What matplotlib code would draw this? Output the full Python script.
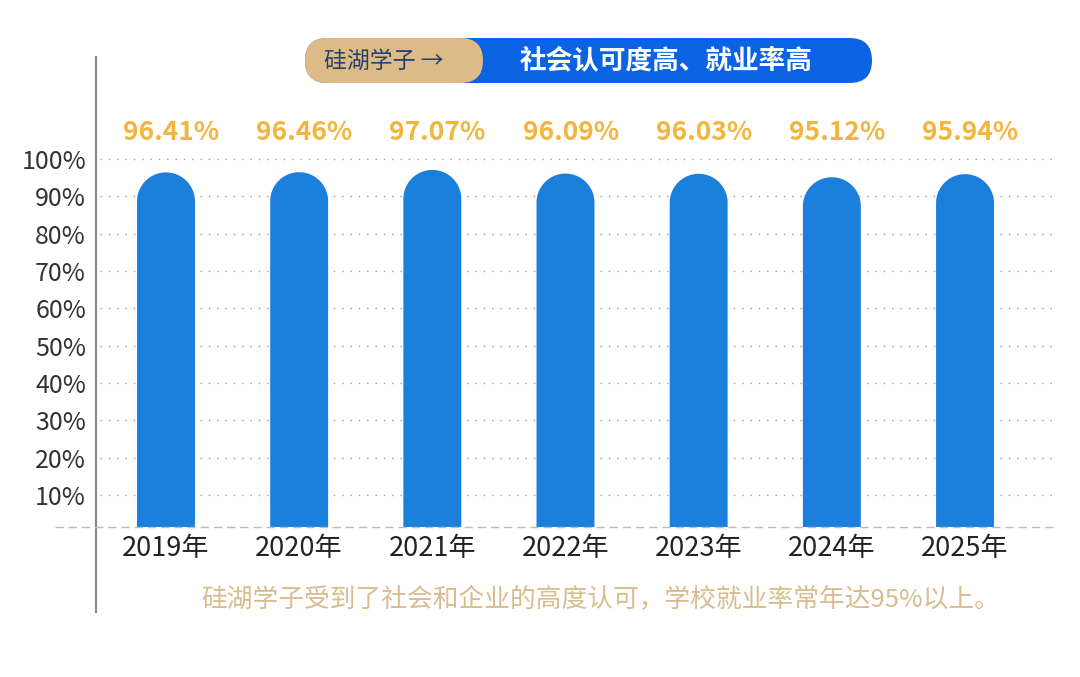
import numpy as np
import matplotlib
matplotlib.use('Agg')
import matplotlib.pyplot as plt
from matplotlib.patches import Polygon, FancyBboxPatch
from matplotlib.lines import Line2D

plt.rcParams['font.family'] = ['Noto Sans CJK SC', 'DejaVu Sans']

years = ['2019年', '2020年', '2021年', '2022年', '2023年', '2024年', '2025年']
rates = [96.41, 96.46, 97.07, 96.09, 96.03, 95.12, 95.94]
rate_labels = ['96.41%', '96.46%', '97.07%', '96.09%', '96.03%', '95.12%', '95.94%']
yticks = [10, 20, 30, 40, 50, 60, 70, 80, 90, 100]
ytick_labels = [f'{t}%' for t in yticks]
badge_left = '硅湖学子 →'
badge_right = '社会认可度高、就业率高'
caption = '硅湖学子受到了社会和企业的高度认可，学校就业率常年达95%以上。'

W, H = 1080, 677
fig = plt.figure(figsize=(W / 100, H / 100), dpi=100)
fig.patch.set_facecolor('white')

# main axes, placed in pixel terms
ax_l, ax_r, ax_t, ax_b = 100, 1055, 150, 527
ax = fig.add_axes([ax_l / W, (H - ax_b) / H, (ax_r - ax_l) / W, (ax_b - ax_t) / H])
ppy = 3.733  # px per percent
ybot = (532.3 - ax_b) / ppy
ytop = 100 + (159 - ax_t) / ppy
xstep = 133.2
xl = -(166 - ax_l) / xstep
xr = 6 + (ax_r - 965) / xstep
ax.set_xlim(xl, xr)
ax.set_ylim(ybot, ytop)

bar_color = '#1B7FDC'
x = np.arange(len(years))
w = 0.435
ppx = (ax_r - ax_l) / (xr - xl)
r_y = (w * ppx / 2) / ppy  # cap radius in y units, so the top is a true half circle

theta = np.linspace(np.pi, 0, 60)
for xi, v in zip(x, rates):
    cy = v - r_y
    arc_x = xi + w / 2 * np.cos(theta)
    arc_y = cy + r_y * np.sin(theta)
    xs = np.concatenate([[xi - w / 2], arc_x, [xi + w / 2]])
    ys = np.concatenate([[0], arc_y, [0]])
    ax.add_patch(Polygon(np.column_stack([xs, ys]), closed=True,
                         facecolor=bar_color, edgecolor='none', zorder=3))

for xi, lab in zip(x, rate_labels):
    ax.text(xi + 0.04, 107.2, lab, ha='center', va='center', fontsize=19,
            fontweight='bold', color='#F2B53E', clip_on=False)

ax.set_yticks(yticks)
ax.set_yticklabels(ytick_labels, fontsize=18, color='#333333')
ax.set_xticks(x)
ax.set_xticklabels(years, fontsize=19.5, color='#222222')
ax.tick_params(axis='both', length=0)
ax.tick_params(axis='y', pad=10)
ax.tick_params(axis='x', pad=6)
for s in ax.spines.values():
    s.set_visible(False)
ax.yaxis.grid(True, color='#9A9A9A', linestyle=(0, (1, 5)), linewidth=1.0)
ax.set_axisbelow(True)

# overlay in pixel coords for decorations
ov = fig.add_axes([0, 0, 1, 1], zorder=5)
ov.set_xlim(0, W)
ov.set_ylim(H, 0)
ov.axis('off')
ov.patch.set_alpha(0)

ov.add_line(Line2D([96, 96], [57, 612], color='#8A8A8A', linewidth=1.6))
ov.add_line(Line2D([55, 1057], [527, 527], color='#BBBBBB', linewidth=1.0,
                   linestyle=(0, (6, 3.5))))

ov.add_patch(FancyBboxPatch((305, 38), 567, 45,
                            boxstyle='round,pad=0,rounding_size=22.5',
                            facecolor='#0B63E4', edgecolor='none'))
ov.add_patch(FancyBboxPatch((305, 38), 178, 45,
                            boxstyle='round,pad=0,rounding_size=22.5',
                            facecolor='#DDBB87', edgecolor='none'))
ov.text(384, 61, badge_left, ha='center', va='center', fontsize=16.5,
        color='#26406D', fontweight='medium')
ov.text(666, 61, badge_right, ha='center', va='center', fontsize=19.2,
        color='white', fontweight='bold')

ov.text(601, 599, caption, ha='center', va='center', fontsize=18.5, color='#D8BC8F')

fig.savefig('out.png', dpi=100, facecolor='white')
